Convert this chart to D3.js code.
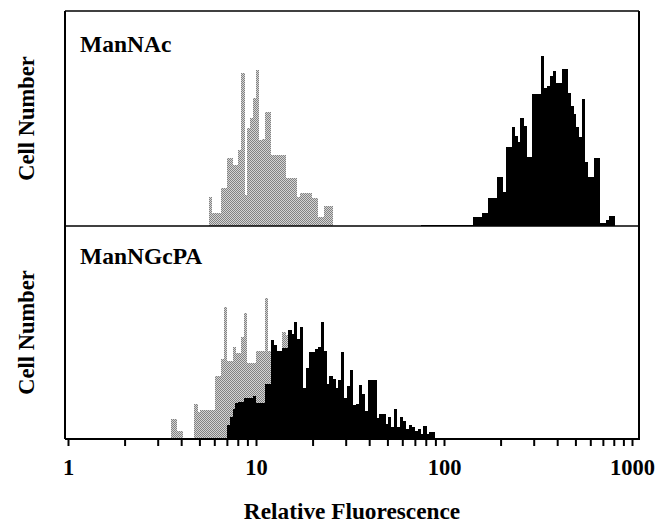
<!DOCTYPE html>
<html>
<head>
<meta charset="utf-8">
<script src="https://cdn.jsdelivr.net/npm/d3@7/dist/d3.min.js"></script>
<style>
  html, body { margin: 0; padding: 0; background: #fff; }
  svg { display: block; }
  text { font-family: "Liberation Serif", "Times New Roman", serif; font-weight: bold; fill: #000; }
</style>
</head>
<body>
<svg id="chart" width="656" height="524"></svg>
<script>
// ── Data ───────────────────────────────────────────────────────────────────
// log amplifier: 64 channels per decade, channel c spans 10^(c/64) .. 10^((c+1)/64)
const CH_PER_DECADE = 64;
const panelNames = ['ManNAc', 'ManNGcPA'];
const tickLabels = ['1', '10', '100', '1000'];

// ManNAc panel
const topGreyStart = 48;
const topGrey = [29, 13, 13, 13, 38, 38, 68, 68, 61, 61, 76, 153, 31, 98, 108, 128, 156, 86, 87, 114,
  114, 71, 71, 71, 71, 71, 48, 48, 48, 48, 29, 33, 33, 33, 33, 28, 28, 9, 9, 20, 20, 20];
const topBlackStart = 120;
const topBlack = [1, 1, 1, 1, 1, 1, 1, 1, 1, 1, 1, 1, 1, 1, 1, 1, 1, 1,
  9, 9, 9, 13, 13, 28, 28, 28, 49, 49, 34, 79, 79, 99, 90, 84, 108, 100, 69, 69, 132, 132,
  132, 170, 138, 140, 150, 155, 143, 143, 157, 157, 133, 120, 112, 99, 89, 127, 64, 49, 49, 68,
  68, 3, 3, 6, 10, 10];

// ManNGcPA panel
const botGreyStart = 35;
const botGrey = [20, 20, 8, 8, 0, 0, 0, 0, 35, 27, 29, 29, 29, 29, 29, 64, 64, 81, 133, 79,
  79, 93, 87, 87, 103, 127, 77, 77, 77, 89, 89, 89, 142, 89, 80, 75, 80, 85, 108, 105,
  60, 50, 40, 35, 30, 25, 20, 15, 10];
const botBlackStart = 54;
const botBlack = [14, 22, 30, 36, 37, 37, 41, 41, 41, 43, 36, 36, 36, 56, 56, 100, 95, 89, 89, 92,
  92, 110, 106, 118, 101, 113, 51, 72, 88, 88, 91, 93, 118, 89, 56, 64, 61, 51, 60, 88,
  41, 54, 70, 34, 35, 55, 45, 28, 60, 60, 60, 21, 25, 25, 15, 22, 12, 30, 12, 22,
  18, 10, 14, 12, 8, 10, 5, 13, 5, 7, 7];

// ── Layout ─────────────────────────────────────────────────────────────────
const box = { left: 65, right: 639, top: 11, mid: 226, bottom: 439 };
const svg = d3.select('#chart');

const x = d3.scaleLog().domain([1, 1000]).range([68, 632]);
const yMax = 215;

// halftone grey fill
const pat = svg.append('defs').append('pattern')
  .attr('id', 'dots').attr('patternUnits', 'userSpaceOnUse')
  .attr('width', 2).attr('height', 2);
pat.append('rect').attr('width', 2).attr('height', 2).attr('fill', '#d4d4d4');
pat.append('rect').attr('width', 1).attr('height', 1).attr('fill', '#828282');
pat.append('rect').attr('x', 1).attr('y', 1).attr('width', 1).attr('height', 1).attr('fill', '#828282');

function toBins(start, counts) {
  return counts.map((v, i) => ({
    lo: Math.pow(10, (start + i) / CH_PER_DECADE),
    hi: Math.pow(10, (start + i + 1) / CH_PER_DECADE),
    v
  })).filter(d => d.v > 0);
}

function drawPanel(y0, y1, series) {
  const y = d3.scaleLinear().domain([0, yMax]).range([y1, y1 - (y1 - y0) * yMax / 215]);
  const g = svg.append('g');
  series.forEach(s => {
    g.selectAll(null)
      .data(toBins(s.start, s.counts)).join('rect')
      .attr('x', d => x(d.lo))
      .attr('width', d => x(d.hi) - x(d.lo) + 0.3)
      .attr('y', d => y(d.v))
      .attr('height', d => y(0) - y(d.v))
      .attr('fill', s.fill)
      .attr('shape-rendering', 'crispEdges');
  });
}

drawPanel(box.top, box.mid, [
  { start: topGreyStart, counts: topGrey, fill: 'url(#dots)' },
  { start: topBlackStart, counts: topBlack, fill: '#000' }
]);
drawPanel(box.mid, box.bottom, [
  { start: botGreyStart, counts: botGrey, fill: 'url(#dots)' },
  { start: botBlackStart, counts: botBlack, fill: '#000' }
]);

// frame
svg.append('line').attr('x1', box.left).attr('x2', box.right).attr('y1', box.top).attr('y2', box.top)
  .attr('stroke', '#000').attr('stroke-width', 1.5);
svg.append('line').attr('x1', box.left).attr('x2', box.right).attr('y1', box.mid).attr('y2', box.mid)
  .attr('stroke', '#000').attr('stroke-width', 1.5);
svg.append('line').attr('x1', box.left).attr('x2', box.left).attr('y1', box.top).attr('y2', box.bottom)
  .attr('stroke', '#000').attr('stroke-width', 2);
svg.append('line').attr('x1', box.right).attr('x2', box.right).attr('y1', box.top).attr('y2', box.bottom)
  .attr('stroke', '#000').attr('stroke-width', 2);
svg.append('line').attr('x1', box.left).attr('x2', box.right + 1).attr('y1', box.bottom).attr('y2', box.bottom)
  .attr('stroke', '#000').attr('stroke-width', 2.2);

// x axis
const tickVals = [];
for (let p = 1; p < 1000; p *= 10) for (let k = 1; k < 10; k++) tickVals.push(p * k);
tickVals.push(1000);

const axis = d3.axisBottom(x)
  .tickValues(tickVals)
  .tickSize(7).tickSizeOuter(0).tickPadding(11)
  .tickFormat(d => {
    const i = Math.round(Math.log10(d));
    return Math.abs(Math.log10(d) - i) < 1e-9 ? tickLabels[i] : '';
  });

const ax = svg.append('g').attr('transform', `translate(0,${box.bottom})`).call(axis);
ax.select('.domain').remove();
ax.selectAll('.tick line').attr('stroke', '#000').attr('stroke-width', 2);
ax.selectAll('.tick text').attr('font-size', 22.5).attr('dy', '0.78em')
  .style('font-family', '"Liberation Serif", serif').style('font-weight', 'bold');

// labels
svg.append('text').attr('x', 80).attr('y', 52).attr('font-size', 23.5).text(panelNames[0]);
svg.append('text').attr('x', 80).attr('y', 264).attr('font-size', 23.5).text(panelNames[1]);

[[box.top, box.mid], [box.mid, box.bottom]].forEach(([a, b]) => {
  svg.append('text')
    .attr('transform', `translate(34,${(a + b) / 2}) rotate(-90)`)
    .attr('text-anchor', 'middle').attr('font-size', 22.5)
    .text('Cell Number');
});

svg.append('text').attr('x', 352).attr('y', 519).attr('text-anchor', 'middle')
  .attr('font-size', 23.3).text('Relative Fluorescence');
</script>
</body>
</html>
